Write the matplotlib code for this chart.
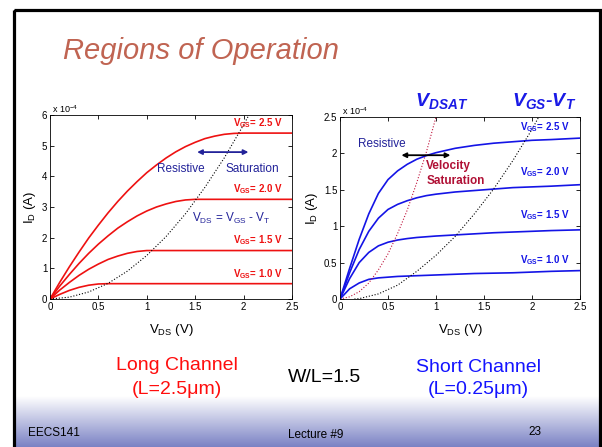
import numpy as np
import matplotlib
matplotlib.use('Agg')
from matplotlib import pyplot as plt
from matplotlib.patches import Rectangle
from matplotlib.ticker import FuncFormatter

plt.rcParams['font.family'] = ['Liberation Sans', 'DejaVu Sans']
plt.rcParams['mathtext.fontset'] = 'custom'
plt.rcParams['mathtext.rm'] = 'Liberation Sans'
plt.rcParams['mathtext.it'] = 'Liberation Sans:italic'
plt.rcParams['mathtext.bf'] = 'Liberation Sans:bold'
plt.rcParams['mathtext.bfit'] = 'Liberation Sans:italic:bold'

# long channel (L=2.5um), I_D in units of 1e-4 A
vds_long = [0, 0.1, 0.2, 0.3, 0.4, 0.5, 0.6, 0.7, 0.8, 0.9, 1.0,
            1.1, 1.2, 1.3, 1.4, 1.5, 1.6, 1.7, 1.8, 1.9, 2.0, 2.5]
id_long_25 = [0, 0.54, 1.05, 1.53, 1.99, 2.41, 2.81, 3.18, 3.52, 3.83, 4.12,
              4.37, 4.60, 4.80, 4.97, 5.11, 5.23, 5.31, 5.37, 5.40, 5.41, 5.41]
id_long_20 = [0, 0.42, 0.80, 1.16, 1.49, 1.79, 2.06, 2.31, 2.52, 2.71, 2.87,
              3.00, 3.10, 3.18, 3.23, 3.25, 3.25, 3.25, 3.25, 3.25, 3.25, 3.25]
id_long_15 = [0, 0.29, 0.54, 0.77, 0.97, 1.14, 1.29, 1.40, 1.49, 1.55, 1.58,
              1.58, 1.58, 1.58, 1.58, 1.58, 1.58, 1.58, 1.58, 1.58, 1.58, 1.58]
id_long_10 = [0, 0.15, 0.28, 0.38, 0.45, 0.49, 0.50, 0.50, 0.50, 0.50, 0.50,
              0.50, 0.50, 0.50, 0.50, 0.50, 0.50, 0.50, 0.50, 0.50, 0.50, 0.50]
vov_long_x = [0, 0.2, 0.4, 0.6, 0.8, 1.0, 1.2, 1.4, 1.6, 1.8, 2.0, 2.05]
vov_long_y = [0, 0.06, 0.23, 0.51, 0.91, 1.42, 2.04, 2.78, 3.64, 4.60, 5.68, 5.97]

# short channel (L=0.25um)
vds_short = [0, 0.1, 0.2, 0.3, 0.4, 0.5, 0.6, 0.7, 0.8, 0.9, 1.0,
             1.2, 1.4, 1.6, 1.8, 2.0, 2.2, 2.5]
id_short_25 = [0, 0.42, 0.82, 1.17, 1.45, 1.64, 1.76, 1.85, 1.92, 1.97, 2.01,
               2.07, 2.11, 2.14, 2.16, 2.18, 2.19, 2.21]
id_short_20 = [0, 0.36, 0.68, 0.93, 1.11, 1.23, 1.30, 1.35, 1.39, 1.42, 1.44,
               1.47, 1.49, 1.51, 1.53, 1.54, 1.55, 1.57]
id_short_15 = [0, 0.28, 0.50, 0.64, 0.73, 0.78, 0.81, 0.83, 0.845, 0.855, 0.865,
               0.88, 0.895, 0.91, 0.92, 0.93, 0.94, 0.95]
id_short_10 = [0, 0.14, 0.22, 0.27, 0.29, 0.30, 0.31, 0.315, 0.32, 0.325, 0.33,
               0.34, 0.35, 0.355, 0.36, 0.37, 0.38, 0.39]
vdsat_x = [0, 0.1, 0.2, 0.3, 0.4, 0.5, 0.6, 0.7, 0.8, 0.9, 1.0]
vdsat_y = [0, 0.03, 0.10, 0.22, 0.40, 0.62, 0.90, 1.22, 1.60, 2.02, 2.50]
vov_short_x = [0.15, 0.2, 0.4, 0.6, 0.8, 1.0, 1.2, 1.4, 1.6, 1.8, 2.0, 2.07]
vov_short_y = [0, 0.005, 0.07, 0.19, 0.38, 0.60, 0.86, 1.17, 1.51, 1.90, 2.33, 2.5]

vgs_labels = ['2.5', '2.0', '1.5', '1.0']
long_label_y = [5.73, 3.59, 1.92, 0.82]
short_label_y = [2.36, 1.75, 1.15, 0.54]

W, H = 602, 447
fig = plt.figure(figsize=(6.02, 4.47), dpi=100)

# slide background
bg = fig.add_axes([0, 0, 1, 1], zorder=0)
bg.set_xlim(0, W)
bg.set_ylim(H, 0)
bg.axis('off')
grad = np.linspace(0, 1, 100)[:, None]
cols = np.ones((100, 1, 3)) * (1 - grad[..., None]) + \
    np.array([0.48, 0.51, 0.77]) * grad[..., None]
bg.imshow(cols, extent=(14, 600, H, 396), aspect='auto', zorder=0)
bg.add_patch(Rectangle((14, 9.5), 586, 460, fill=False, ec='black', lw=2.3, zorder=2))

bg.text(63, 59, 'Regions of Operation', fontsize=21, style='italic',
        color='#c06452', va='baseline', ha='left')

bg.text(177, 366, 'Long Channel', fontsize=14, color='#ff0d0d', ha='center', va='center')
bg.text(177, 389, '(L=2.5μm)', fontsize=14, color='#ff0d0d', ha='center', va='center')
bg.text(325, 377, 'W/L=1.5', fontsize=14, color='black', ha='center', va='center')
bg.text(478, 367, 'Short Channel', fontsize=14, color='#1414ff', ha='center', va='center')
bg.text(478, 390, '(L=0.25μm)', fontsize=14, color='#1414ff', ha='center', va='center')
bg.text(28, 433, 'EECS141', fontsize=8.5, ha='left', va='center')
bg.text(316, 435, 'Lecture #9', fontsize=8.5, ha='center', va='center')
bg.text(535, 432, '23', fontsize=8.5, ha='center', va='center')

bg.text(415, 106, r'$\mathbfit{V_{DSAT}}$', fontsize=14, color='#1a1ae6', ha='left', va='baseline')
bg.text(512, 106, r'$\mathbfit{V_{GS}}$-$\mathbfit{V_T}$', fontsize=14, color='#1a1ae6',
        fontweight='bold', style='italic', ha='left', va='baseline')

fmt = FuncFormatter(lambda v, p: '%g' % v)


def style_axes(ax, ymax, yticks):
    ax.set_xlim(0, 2.5)
    ax.set_ylim(0, ymax)
    ax.set_xticks([0, 0.5, 1, 1.5, 2, 2.5])
    ax.set_yticks(yticks)
    ax.xaxis.set_major_formatter(fmt)
    ax.yaxis.set_major_formatter(fmt)
    ax.tick_params(direction='in', length=3, width=0.6, labelsize=7,
                   top=True, right=True, pad=2)
    for s in ax.spines.values():
        s.set_linewidth(0.6)
    ax.set_xlabel(r'$\mathrm{V_{DS}}$ (V)', fontsize=9.5, labelpad=7)
    ax.set_ylabel(r'$\mathrm{I_D}$ (A)', fontsize=9.5, labelpad=3)
    ax.text(0.01, 1.0, r'x 10$^{-4}$', transform=ax.transAxes, fontsize=6.5,
            ha='left', va='bottom')


red = '#ee1111'
navy = '#222299'
ax1 = fig.add_axes([50 / W, 1 - 299 / H, 242 / W, 184 / H], zorder=1)
style_axes(ax1, 6, [0, 1, 2, 3, 4, 5, 6])
for ys in [id_long_25, id_long_20, id_long_15, id_long_10]:
    ax1.plot(vds_long, ys, color=red, lw=1.2)
ax1.plot(vov_long_x, vov_long_y, color='black', lw=0.8, ls=':')
for lab, yy in zip(vgs_labels, long_label_y):
    ax1.text(1.89, yy, r'$\mathbf{V_{GS}}$= ' + lab + ' V', color=red, fontsize=7,
             fontweight='bold', ha='left', va='center')
ax1.text(1.11, 4.25, 'Resistive', color=navy, fontsize=8.5, va='center')
ax1.text(1.81, 4.25, 'Saturation', color=navy, fontsize=8.5, va='center')
ax1.annotate('', xy=(2.05, 4.79), xytext=(1.52, 4.79),
             arrowprops=dict(arrowstyle='<|-|>', color=navy, lw=1.3, mutation_scale=7,
                             shrinkA=0, shrinkB=0))
ax1.text(1.47, 2.63, r'$\mathrm{V_{DS}}$ = $\mathrm{V_{GS}}$ - $\mathrm{V_T}$', color=navy,
         fontsize=8.5, va='center')

blue = '#1414e6'
crimson = '#c0143c'
ax2 = fig.add_axes([340 / W, 1 - 299 / H, 240 / W, 182 / H], zorder=1)
style_axes(ax2, 2.5, [0, 0.5, 1, 1.5, 2, 2.5])
for ys in [id_short_25, id_short_20, id_short_15, id_short_10]:
    ax2.plot(vds_short, ys, color=blue, lw=1.2)
ax2.plot(vdsat_x, vdsat_y, color=crimson, lw=0.8, ls=':')
ax2.plot(vov_short_x, vov_short_y, color='black', lw=0.8, ls=':')
for lab, yy in zip(vgs_labels, short_label_y):
    ax2.text(1.875, yy, r'$\mathbf{V_{GS}}$= ' + lab + ' V', color=blue, fontsize=7,
             fontweight='bold', ha='left', va='center')
ax2.text(0.19, 2.13, 'Resistive', color=navy, fontsize=8.5, va='center')
ax2.annotate('', xy=(1.15, 1.975), xytext=(0.64, 1.975),
             arrowprops=dict(arrowstyle='<|-|>', color='black', lw=1.3, mutation_scale=7,
                             shrinkA=0, shrinkB=0))
ax2.text(0.9, 1.725, 'Velocity\nSaturation', color='#b01035', fontsize=8.5,
         fontweight='bold', va='center', ha='left', linespacing=1.3)

fig.savefig('out.png', dpi=100)
